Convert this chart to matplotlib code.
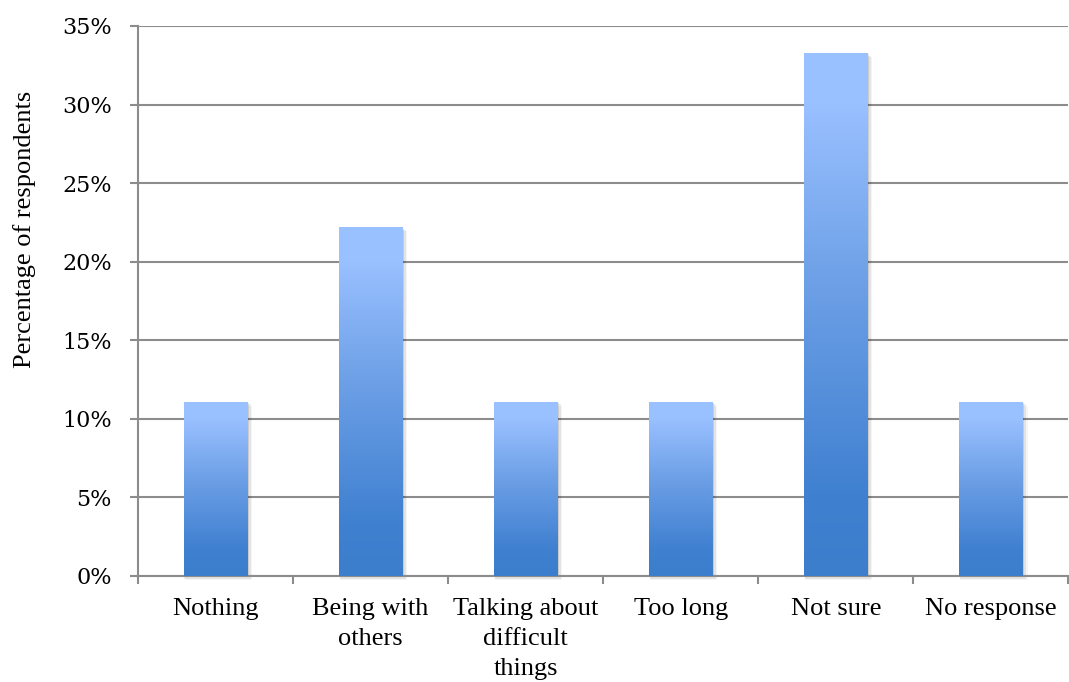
import numpy as np
import matplotlib
matplotlib.use("Agg")
import matplotlib.pyplot as plt
from matplotlib.colors import LinearSegmentedColormap
from matplotlib.patches import Rectangle
from matplotlib.ticker import PercentFormatter, FixedLocator

categories = ["Nothing", "Being with\nothers", "Talking about\ndifficult\nthings",
              "Too long", "Not sure", "No response"]
values = [11.1, 22.2, 11.1, 11.1, 33.3, 11.1]
y_ticks = [0, 5, 10, 15, 20, 25, 30, 35]

plt.rcParams["font.family"] = ["Liberation Serif", "DejaVu Serif"]

fig = plt.figure(figsize=(10.69, 6.82), dpi=100)
ax = fig.add_axes([138 / 1069, 1 - 576 / 682, 1 - 138 / 1069 - 0.0005, (576 - 26) / 682])

grey = "#8c8c8c"
ax.set_xlim(-0.5, len(categories) - 0.5)
ax.set_ylim(0, 35)
ax.yaxis.set_major_locator(FixedLocator(y_ticks))
ax.yaxis.set_major_formatter(PercentFormatter(decimals=0))
ax.grid(axis="y", color=grey, linewidth=1.5, zorder=0)
ax.set_axisbelow(True)

for side in ("top", "right"):
    ax.spines[side].set_visible(False)
for side in ("left", "bottom"):
    ax.spines[side].set_color(grey)
    ax.spines[side].set_linewidth(1.5)

# category labels centred under the bars, tick marks between categories
ax.set_xticks(range(len(categories)))
ax.set_xticklabels(categories, fontsize=19, linespacing=1.45, va="top")
ax.tick_params(axis="x", length=0, pad=16)
ax.set_xticks(np.arange(-0.5, len(categories) + 0.5, 1), minor=True)
ax.tick_params(axis="x", which="minor", length=6, width=1.5, color=grey, direction="out")
ax.tick_params(axis="y", length=6, width=1.5, color=grey, pad=13)
for lbl in ax.get_yticklabels():
    lbl.set_fontfamily("DejaVu Serif")
    lbl.set_fontsize(16)
ax.set_ylabel("Percentage of respondents", fontsize=19)
ax.yaxis.set_label_coords(-102 / 931, 0.63)

# vertical gradient: light on top, deeper blue towards the base
cmap = LinearSegmentedColormap.from_list(
    "barfill",
    [(0.0, "#3c7dcc"), (0.15, "#3f80d0"), (0.55, "#6c9fe6"), (0.9, "#99c0ff"), (1.0, "#9ac1ff")],
)
grad = np.linspace(0, 1, 256).reshape(-1, 1)
width = 0.41

for i, v in enumerate(values):
    x0 = i - width / 2
    # soft drop shadow
    for k, a in enumerate([0.10, 0.07, 0.04]):
        dx = 0.008 * (k + 1)
        dy = 0.09 * (k + 1)
        ax.add_patch(Rectangle((x0 + dx * 0.3, -dy), width + dx, v, facecolor="black",
                               alpha=a, edgecolor="none", zorder=2, clip_on=False))
    bar = Rectangle((x0, 0), width, v, facecolor="none", edgecolor="none", zorder=3)
    ax.add_patch(bar)
    im = ax.imshow(grad, cmap=cmap, aspect="auto", origin="lower",
                   extent=[x0, x0 + width, 0, v], zorder=3, interpolation="bilinear")
    im.set_clip_path(bar)

ax.set_xlim(-0.5, len(categories) - 0.5)
ax.set_ylim(0, 35)

fig.savefig("out.png", dpi=100)
